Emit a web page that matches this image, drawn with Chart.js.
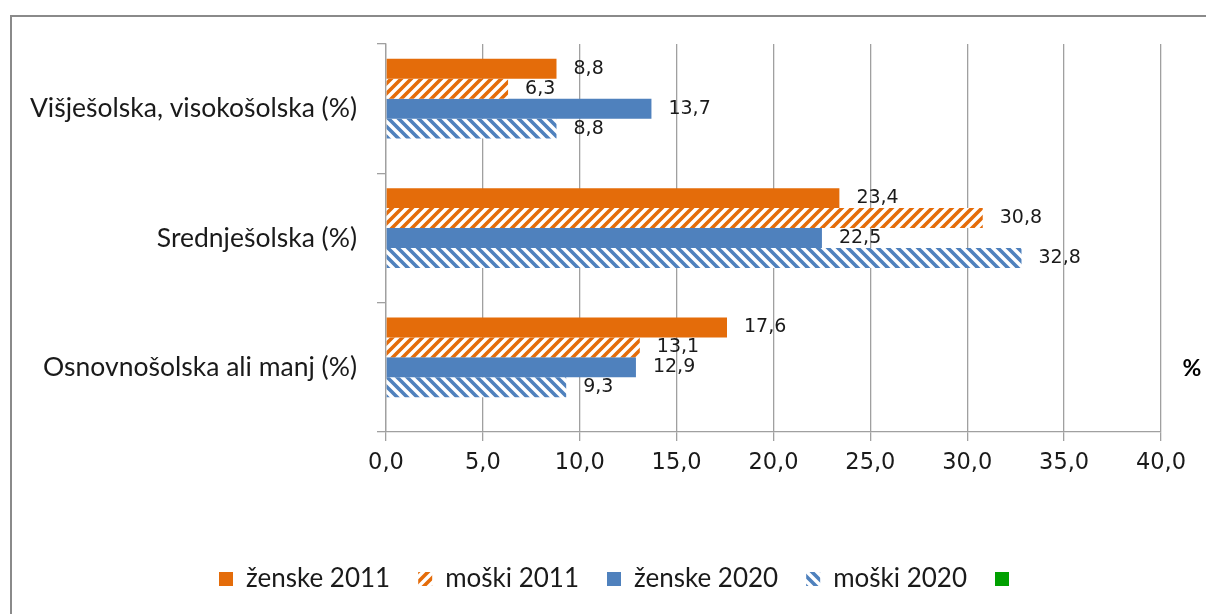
<!DOCTYPE html>
<html>
<head>
<meta charset="utf-8">
<script src="https://cdn.jsdelivr.net/npm/chart.js@4/dist/chart.umd.min.js"></script>
<style>
  html, body { margin: 0; padding: 0; background: #fff; overflow: hidden; }
  #frame { position: absolute; left: 10px; top: 15px; width: 1400px; height: 800px;
           border-left: 2px solid #8a8a8a; border-top: 2px solid #8a8a8a; }
  #wrap { position: absolute; left: 0; top: 0; width: 1206px; height: 614px; }
</style>
</head>
<body>
<div id="frame"></div>
<div id="wrap"><canvas id="c" width="1206" height="614"></canvas></div>
<script>
// ---- data ----
const categories = ['Višješolska, visokošolska (%)', 'Srednješolska (%)', 'Osnovnošolska ali manj (%)'];
const seriesNames = ['ženske 2011', 'moški 2011', 'ženske 2020', 'moški 2020', ''];
const zenske2011 = [8.8, 23.4, 17.6];
const moski2011 = [6.3, 30.8, 13.1];
const zenske2020 = [13.7, 22.5, 12.9];
const moski2020 = [8.8, 32.8, 9.3];
const emptySeries = [null, null, null];
const xMin = 0, xMax = 40, xStep = 5;
const axisTitle = '%';

const ORANGE = '#e46c0a', BLUE = '#4f81bd', GREEN = '#00a000';

function hatch(color, dir) {
  const s = 10;
  const c = document.createElement('canvas');
  c.width = s; c.height = s;
  const g = c.getContext('2d');
  g.fillStyle = '#fff'; g.fillRect(0, 0, s, s);
  g.strokeStyle = color; g.lineWidth = 3.6; g.lineCap = 'square';
  g.beginPath();
  if (dir === '/') {
    for (let k = -1; k <= 1; k++) { g.moveTo(k * s, s); g.lineTo(k * s + s, 0); }
  } else {
    for (let k = -1; k <= 1; k++) { g.moveTo(k * s, 0); g.lineTo(k * s + s, s); }
  }
  g.stroke();
  return document.getElementById('c').getContext('2d').createPattern(c, 'repeat');
}

const fmt = v => v.toFixed(1).replace('.', ',');

const labelPlugin = {
  id: 'vals',
  afterLayout(chart) {
    // legend in the original is centred on the full frame, slightly right of the plot centre
    const L = chart.legend;
    if (L) { L.left += 30; L.right += 30; }
  },
  afterDatasetsDraw(chart) {
    const ctx = chart.ctx;
    ctx.save();
    ctx.font = '19px "DejaVu Sans"';
    ctx.fillStyle = '#1a1a1a';
    ctx.textAlign = 'left';
    ctx.textBaseline = 'middle';
    chart.data.datasets.forEach((ds, i) => {
      const meta = chart.getDatasetMeta(i);
      meta.data.forEach((el, j) => {
        const v = ds.data[j];
        if (v == null) return;
        ctx.fillText(fmt(v), el.x + 17, el.y);
      });
    });
    // axis unit label at right
    const a = chart.chartArea;
    ctx.font = 'bold 23px Lato';
    ctx.textAlign = 'center';
    ctx.fillStyle = '#000';
    ctx.fillText(axisTitle, a.right + 31, a.top + (a.bottom - a.top) * 0.837);
    ctx.restore();
  }
};

const gray = '#a0a0a0';

new Chart(document.getElementById('c'), {
  type: 'bar',
  data: {
    labels: categories,
    datasets: [
      { label: seriesNames[0], data: zenske2011, backgroundColor: ORANGE },
      { label: seriesNames[1], data: moski2011, backgroundColor: hatch(ORANGE, '/') },
      { label: seriesNames[2], data: zenske2020, backgroundColor: BLUE },
      { label: seriesNames[3], data: moski2020, backgroundColor: hatch(BLUE, '\\') },
      { label: seriesNames[4], data: emptySeries, backgroundColor: GREEN }
    ]
  },
  options: {
    indexAxis: 'y',
    responsive: false,
    animation: false,
    devicePixelRatio: 1,
    datasets: { bar: { barPercentage: 1, categoryPercentage: 0.77, borderWidth: 0 } },
    layout: { padding: { left: 20, right: 45, top: 44, bottom: 12 } },
    scales: {
      x: {
        min: xMin, max: xMax,
        ticks: { stepSize: xStep, callback: v => fmt(v), color: '#1a1a1a',
                 font: { family: 'DejaVu Sans', size: 22.5 }, padding: 9 },
        grid: { color: gray, lineWidth: 1.3, tickLength: 9, drawTicks: true },
        border: { color: gray, width: 1.3 },
        afterFit(s) { s.height = 106; }
      },
      y: {
        ticks: { color: '#1a1a1a', font: { family: 'Lato', size: 26.5 }, padding: 20 },
        grid: { offset: true, drawOnChartArea: false, color: gray, lineWidth: 1.3, tickLength: 9 },
        border: { color: gray, width: 1.3 },
        afterFit(s) { s.width = 366; }
      }
    },
    plugins: {
      legend: {
        position: 'bottom',
        labels: { boxWidth: 14, boxHeight: 14, padding: 28, color: '#1a1a1a',
                  font: { family: 'Lato', size: 26 } }
      },
      tooltip: { enabled: false }
    }
  },
  plugins: [labelPlugin]
});
</script>
</body>
</html>
